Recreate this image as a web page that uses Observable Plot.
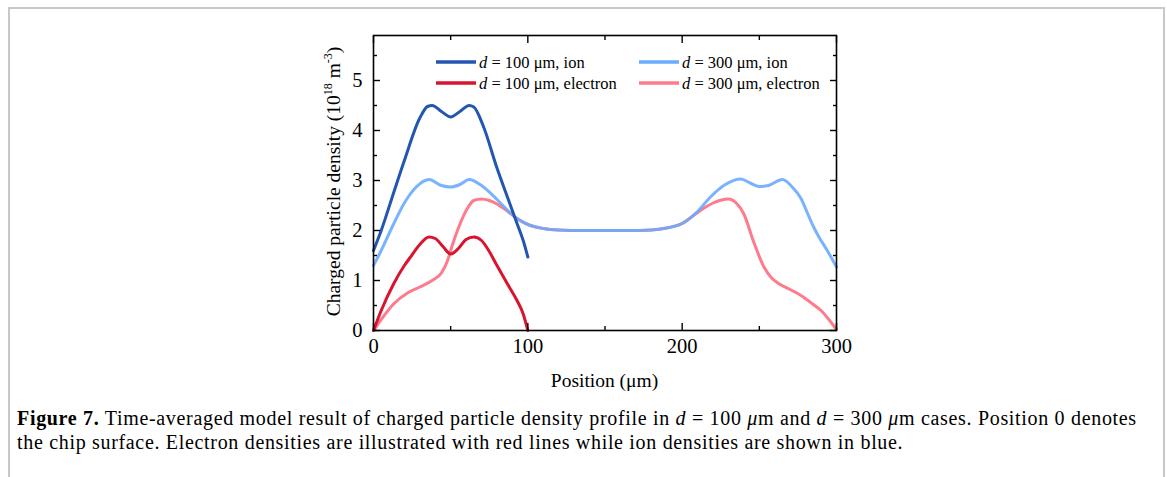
<!DOCTYPE html>
<html>
<head>
<meta charset="utf-8">
<script src="https://cdn.jsdelivr.net/npm/d3@7"></script>
<script src="https://cdn.jsdelivr.net/npm/@observablehq/plot@0.6"></script>
<style>
  body { margin:0; background:#fff; width:1167px; height:477px; overflow:hidden; position:relative; }
  #frame { position:absolute; left:8px; top:7px; width:1157px; height:500px; border:2px solid #c8c8c8; border-bottom:none; box-sizing:border-box; }
  #chart { position:absolute; left:0; top:0; }
  #caption { position:absolute; left:17px; top:406px; font-family:"Liberation Serif", serif; font-size:20px; letter-spacing:0.68px; line-height:24px; color:#000; white-space:nowrap; }
</style>
</head>
<body>
<div id="frame"></div>
<div id="chart"></div>
<div id="caption"><b>Figure 7.</b> Time-averaged model result of charged particle density profile in <i>d</i> = 100 <i>μ</i>m and <i>d</i> = 300 <i>μ</i>m cases. Position 0 denotes<br>the chip surface. Electron densities are illustrated with red lines while ion densities are shown in blue.</div>
<script>
// ---- data ----
const xIon100 = [0, 5, 13, 20, 30, 35, 38, 44, 50, 56, 62, 65, 71, 80, 87, 93, 97, 100];
const yIon100 = [1.6, 2.0, 2.75, 3.4, 4.25, 4.48, 4.5, 4.38, 4.27, 4.38, 4.5, 4.47, 4.1, 3.25, 2.65, 2.14, 1.8, 1.47];

const xEle100 = [0, 5, 13, 20, 24, 30, 36, 40, 45, 50, 55, 60, 65, 70, 75, 80, 87, 93, 97, 100];
const yEle100 = [0, 0.4, 0.93, 1.3, 1.47, 1.72, 1.87, 1.84, 1.68, 1.53, 1.64, 1.82, 1.87, 1.8, 1.58, 1.3, 0.92, 0.6, 0.33, 0];

const xIon300 = [0, 5, 13, 20, 28, 36, 44, 50, 56, 62, 70, 80, 87, 93, 100, 110, 120, 135, 150, 165, 180, 190, 200, 210, 218, 228, 238, 244, 250, 256, 265, 271, 277, 281, 285, 289, 294, 300];
const yIon300 = [1.3, 1.6, 2.13, 2.55, 2.88, 3.02, 2.9, 2.87, 2.92, 3.02, 2.9, 2.62, 2.4, 2.24, 2.12, 2.04, 2.01, 2.0, 2.0, 2.0, 2.01, 2.05, 2.14, 2.38, 2.66, 2.92, 3.03, 2.95, 2.88, 2.9, 3.02, 2.88, 2.64, 2.36, 2.08, 1.85, 1.6, 1.27];

const xEle300 = [0, 5, 13, 22, 30, 38, 44, 48, 51, 55, 61, 65, 70, 75, 80, 87, 93, 100, 110, 120, 135, 150, 165, 180, 190, 200, 210, 220, 230, 235, 240, 246, 253, 258, 262, 270, 277, 285, 290, 295, 300];
const yEle300 = [0, 0.22, 0.53, 0.75, 0.87, 1.0, 1.15, 1.4, 1.7, 2.05, 2.45, 2.6, 2.63, 2.6, 2.53, 2.38, 2.24, 2.12, 2.04, 2.01, 2.0, 2.0, 2.0, 2.01, 2.05, 2.14, 2.36, 2.55, 2.63, 2.55, 2.33, 1.8, 1.27, 1.05, 0.95, 0.82, 0.7, 0.52, 0.4, 0.22, 0.02];

const seriesNames = ["d300e", "d300i", "d100e", "d100i"];
const seriesColors = ["#ff7a8a", "#6aaaff", "#d8142e", "#2256b0"];
const seriesX = [xEle300, xIon300, xEle100, xIon100];
const seriesY = [yEle300, yIon300, yEle100, yIon100];

const legendD = ["100", "300", "100", "300"];
const legendKind = ["ion", "ion", "electron", "electron"];
const legendColors = ["#2256b0", "#6aaaff", "#d8142e", "#ff7a8a"];

const xMajor = [0, 100, 200, 300];
const xMinor = [50, 150, 250];
const yMajor = [0, 1, 2, 3, 4, 5];
const yMinor = [0.5, 1.5, 2.5, 3.5, 4.5, 5.5];

// ---- build ----
const FONT = "'Liberation Serif', serif";
const W = 1167, H = 395;
const mL = 373, mR = 331, mT = 35, mB = 65;

const lines = seriesNames.map((name, k) => {
  const rows = seriesX[k].map((x, i) => ({x, y: seriesY[k][i]}));
  return Plot.line(rows, {x: "x", y: "y", stroke: seriesColors[k], strokeWidth: 3,
    strokeOpacity: name === "d300i" ? 0.9 : 1, curve: "monotone-x"});
});

const noText = () => "";
const fmt = d => String(d);
const plot = Plot.plot({
  width: W, height: H,
  marginLeft: mL, marginRight: mR, marginTop: mT, marginBottom: mB,
  style: {fontFamily: FONT, fontSize: "20px", color: "#000", background: "transparent"},
  x: {domain: [0, 300]},
  y: {domain: [0, 5.9]},
  marks: [
    ...lines,
    Plot.frame({stroke: "#000", strokeWidth: 1.6}),
    Plot.axisX(xMajor, {anchor: "bottom", tickSize: 0, tickPadding: 8, tickFormat: fmt, label: null, fontSize: 20.5}),
    Plot.axisX(xMajor, {anchor: "bottom", tickSize: -7, tickFormat: noText, label: null, strokeWidth: 1.4}),
    Plot.axisX(xMinor, {anchor: "bottom", tickSize: -4, tickFormat: noText, label: null, strokeWidth: 1.4}),
    Plot.axisX(xMajor, {anchor: "top", tickSize: -7, tickFormat: noText, label: null, strokeWidth: 1.4}),
    Plot.axisX(xMinor, {anchor: "top", tickSize: -4, tickFormat: noText, label: null, strokeWidth: 1.4}),
    Plot.axisY(yMajor, {anchor: "left", tickSize: 0, tickPadding: 11, tickFormat: fmt, label: null, fontSize: 20.5}),
    Plot.axisY(yMajor, {anchor: "left", tickSize: -7, tickFormat: noText, label: null, strokeWidth: 1.4}),
    Plot.axisY(yMinor, {anchor: "left", tickSize: -4, tickFormat: noText, label: null, strokeWidth: 1.4}),
    Plot.axisY(yMajor, {anchor: "right", tickSize: -7, tickFormat: noText, label: null, strokeWidth: 1.4}),
    Plot.axisY(yMinor, {anchor: "right", tickSize: -4, tickFormat: noText, label: null, strokeWidth: 1.4})
  ]
});
document.getElementById("chart").appendChild(plot);

const svg = d3.select(plot);
const sx = plot.scale("x"), sy = plot.scale("y");
const px = v => sx.range[0] + (v - sx.domain[0]) / (sx.domain[1] - sx.domain[0]) * (sx.range[1] - sx.range[0]);
const py = v => sy.range[0] + (v - sy.domain[0]) / (sy.domain[1] - sy.domain[0]) * (sy.range[1] - sy.range[0]);

// x label
svg.append("text")
  .attr("x", (px(0) + px(300)) / 2).attr("y", 387)
  .attr("text-anchor", "middle").attr("font-family", FONT).attr("font-size", 19.5).attr("fill", "#000")
  .text("Position (μm)");

// y label with superscripts
const yl = svg.append("text")
  .attr("transform", `translate(340,${(py(0) + py(5.9)) / 2 - 1}) rotate(-90)`)
  .attr("text-anchor", "middle").attr("font-family", FONT).attr("font-size", 19.5).attr("fill", "#000");
yl.append("tspan").text("Charged particle density (10");
yl.append("tspan").attr("font-size", 12).attr("dy", -8).text("18");
yl.append("tspan").attr("dy", 8).text(" m");
yl.append("tspan").attr("font-size", 12).attr("dy", -8).text("-3");
yl.append("tspan").attr("dy", 8).text(")");

// legend
const colX = [436, 639];
const rowY = [62, 83];
legendD.forEach((d, i) => {
  const c = i % 2, r = Math.floor(i / 2);
  const g = svg.append("g");
  g.append("line").attr("x1", colX[c]).attr("x2", colX[c] + 40)
    .attr("y1", rowY[r]).attr("y2", rowY[r])
    .attr("stroke", legendColors[i]).attr("stroke-width", 3.5);
  const t = g.append("text").attr("x", colX[c] + 43).attr("y", rowY[r] + 5.5)
    .attr("text-anchor", "start").attr("font-family", FONT)
    .attr("font-size", 16.5).attr("fill", "#000");
  t.append("tspan").attr("font-style", "italic").text("d");
  t.append("tspan").text(` = ${d} μm, ${legendKind[i]}`);
});
</script>
</body>
</html>
